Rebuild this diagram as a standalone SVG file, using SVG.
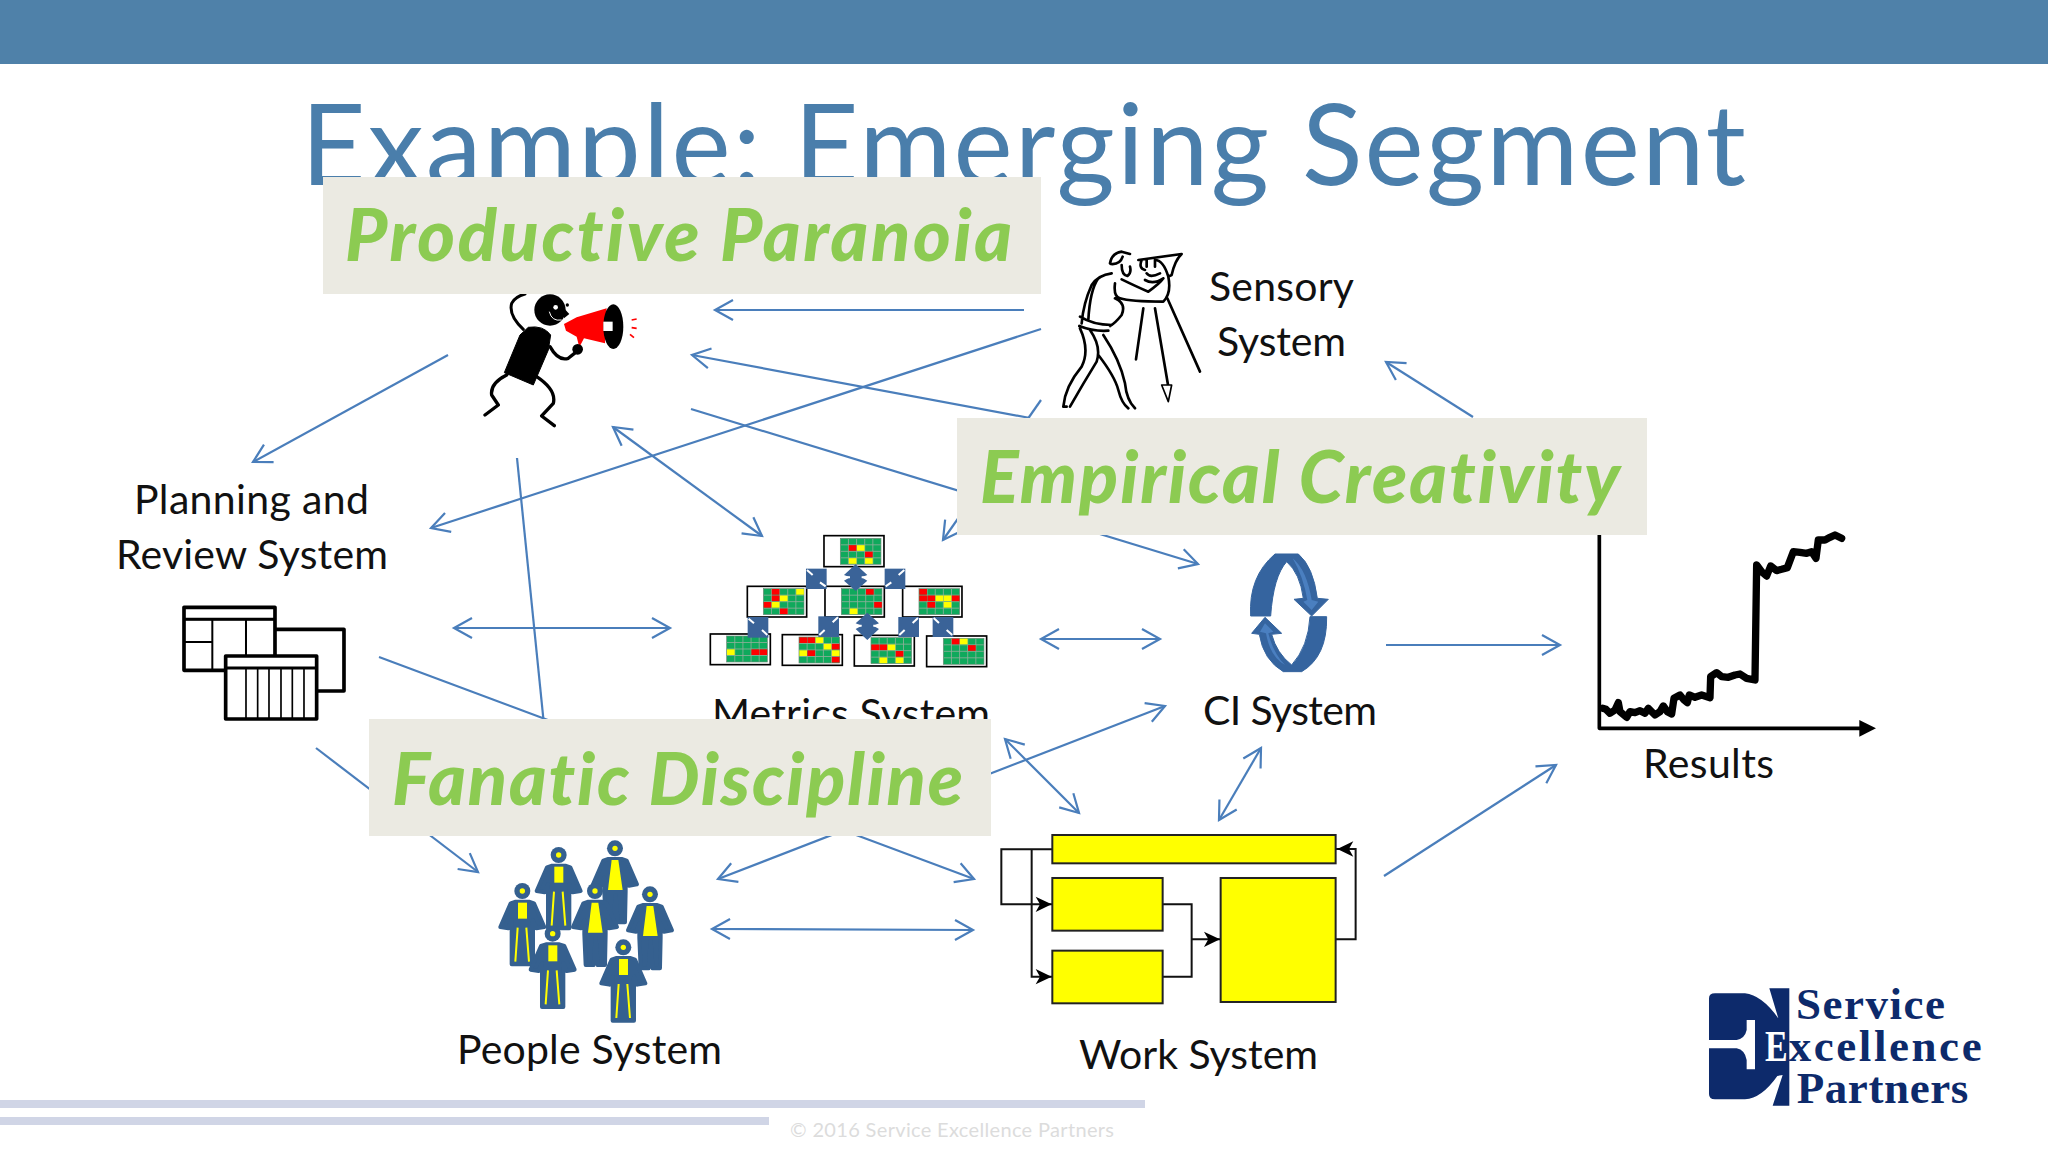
<svg xmlns="http://www.w3.org/2000/svg" xmlns:xlink="http://www.w3.org/1999/xlink" width="2048" height="1152" viewBox="0 0 2048 1152">
<style>
.lb{font-family:"Lato","Liberation Sans",sans-serif;font-size:41px;fill:#111;font-variant-ligatures:none}
.cw{font-family:"Lato","Liberation Sans",sans-serif;font-size:72px;font-weight:900;font-style:italic;fill:#8ccb52;font-variant-ligatures:none}
.cb{fill:#ebeae2}
.cn{fill:none;stroke:#4a7ebb;stroke-width:2.2;marker-end:url(#v)}
.cd{fill:none;stroke:#4a7ebb;stroke-width:2.2;marker-end:url(#v);marker-start:url(#v)}
.cp{fill:none;stroke:#4a7ebb;stroke-width:2.2}
.k{fill:none;stroke:#000;stroke-linecap:round;stroke-linejoin:round}
.bx{fill:#fff;stroke:#000;stroke-width:5}
.ba{fill:#3a6398}
.nk{stroke:#fff;stroke-width:6}
.ye{fill:#ff0;stroke:#222;stroke-width:6}
.wl{fill:none;stroke:#111;stroke-width:6}
.pb{fill:#35608f;stroke:#35608f;stroke-width:12;stroke-linejoin:round}
.py{fill:#ff0}
.pl{stroke:#ff0;stroke-width:6}
.lg{font-family:"Liberation Serif",serif;font-weight:700;font-size:135px;fill:#0d2a6b}
</style>
<defs>
<marker id="v" markerUnits="userSpaceOnUse" markerWidth="26" markerHeight="26" refX="22" refY="13" orient="auto-start-reverse"><path d="M4,3 L22,13 L4,23" fill="none" stroke="#4a7ebb" stroke-width="2.2"/></marker>
<g id="mg"><rect width="122" height="78" fill="#0fa95c"/><path d="M0,19.5H122M0,39H122M0,58.500H122M24.400,0V78M48.800,0V78M73.200,0V78M97.600,0V78" stroke="#8fae9a" stroke-width="2.500" fill="none"/><rect width="122" height="78" fill="none" stroke="#6f8a78" stroke-width="2"/></g>
<rect id="cr" width="23" height="17" fill="#f00"/>
<rect id="cy" width="23" height="17" fill="#ff0"/>
<path id="ah" d="M0,0 L-48,-23 L-35,0 L-48,23 Z" fill="#000"/>
<g id="pa"><path class="pb" d="M-20,32L20,32L35,37L66,108L42,112L32,88L32,220L-32,220L-32,88L-42,112L-66,108L-35,37Z"/><circle r="24" fill="#35608f"/><circle r="8" class="py"/><rect class="py" x="-13" y="35" width="27" height="48"/><path class="pl" d="M-14,110L-21,212M12,110L20,212"/></g>
<g id="pb"><path class="pb" d="M-20,32L20,32L35,37L66,108L42,112L32,88L32,130L30,222L8,222L2,140L-4,222L-28,222L-32,130L-32,88L-42,112L-66,108L-35,37Z"/><circle r="24" fill="#35608f"/><circle r="8" class="py"/><path class="py" d="M-10,35L10,35L23,125L-21,125Z"/></g>
</defs>

<rect id="header-band" width="2048" height="64" fill="#4f81a9"/>
<text id="title" x="301" y="185" font-family="Lato,'Liberation Sans',sans-serif" font-size="112" fill="#4a7eab" textLength="1445" lengthAdjust="spacing" style="font-variant-ligatures:none">Example: Emerging Segment</text>

<g id="footer">
<rect x="0" y="1100" width="1145" height="8" fill="#d0d5e6"/>
<rect x="0" y="1117" width="769" height="8" fill="#d0d5e6"/>
<text x="790" y="1137" font-family="Lato,'Liberation Sans',sans-serif" font-size="20" fill="#dcdcdc" textLength="324">© 2016 Service Excellence Partners</text>
</g>

<g id="node-leadership" transform="translate(440 240) scale(.3333)">
<path class="k" stroke-width="9" d="M250,268Q205,225 215,190Q225,170 255,162"/>
<path d="M265,262Q310,255 332,285L325,330L280,435L193,398L240,285Z" fill="#000" stroke="#000" stroke-width="3" stroke-linejoin="round"/>
<path class="k" stroke-width="10" d="M200,405Q150,430 155,465L175,495L135,525M290,410Q350,450 340,490L305,528L343,557M330,320Q355,365 385,355L410,335"/>
<circle cx="330" cy="210" r="47" fill="#000"/><circle cx="382" cy="195" r="5" fill="#000"/>
<path d="M372,205L388,222L372,235Z" fill="#000"/>
<circle cx="347" cy="202" r="7" fill="#fff"/>
<path d="M328,215Q335,245 365,240" fill="none" stroke="#fff" stroke-width="3"/>
<path d="M372,252L410,232L500,205L495,310L432,295L418,322L410,290L378,272Z" fill="#f00"/>
<circle cx="413" cy="328" r="16" fill="#000"/>
<ellipse cx="520" cy="260" rx="30" ry="67" fill="#000"/><rect x="490" y="245" width="28" height="28" fill="#fff"/>
<path d="M575,240L590,237M575,263L590,265M570,283L582,293" stroke="#f00" stroke-width="5" fill="none"/>
</g>

<g id="node-sensory">
<g transform="translate(1040 240) scale(.3333)">
<path class="k" stroke-width="8" d="M210,70Q215,40 245,35L270,42M212,72Q240,75 248,50M245,75Q245,105 262,108Q275,100 270,80M215,100Q175,105 155,135Q130,190 125,250M175,115Q150,150 145,240M225,130Q220,170 240,175Q270,185 370,185Q395,160 385,110M245,118Q290,140 325,155Q360,130 370,115M120,230Q160,255 215,255M118,258Q160,275 205,272M225,175Q260,190 245,225Q225,250 210,258M150,270Q185,320 170,365Q130,430 90,500M120,265Q150,330 125,380Q75,440 70,500L80,500M190,285Q240,360 255,430Q260,480 285,505M175,345Q225,410 235,450Q245,490 265,505M295,60L425,42Q405,60 395,105L385,110Q370,60 345,60M305,60Q295,85 315,90M320,60L320,80M345,60L345,80M320,100Q330,115 360,100M315,120Q340,135 370,115"/>
<path class="k" stroke-width="8" d="M310,205L288,358M345,205L385,440M382,175L480,395"/>
<path d="M365,435L395,435L385,485Z" fill="#fff" stroke="#000" stroke-width="5" stroke-linejoin="round"/>
</g>
<text class="lb" x="1209" y="301" textLength="145">Sensory</text>
<text class="lb" x="1217" y="356" textLength="129">System</text>
</g>

<g id="node-planning">
<text class="lb" x="134" y="514" textLength="235">Planning and</text>
<text class="lb" x="116" y="569" textLength="272">Review System</text>
<g transform="translate(160 590) scale(.3333)" fill="#fff" stroke="#000" stroke-linejoin="round">
<rect x="250" y="118" width="302" height="185" stroke-width="11"/>
<rect x="72" y="52" width="273" height="189" stroke-width="11"/>
<path d="M72,88H345M157,88V241M72,156H157M258,88V200" stroke-width="6" fill="none"/>
<path d="M72,88H345" stroke-width="9" fill="none"/>
<rect x="197" y="198" width="273" height="189" stroke-width="11"/>
<path d="M197,234H470" stroke-width="9" fill="none"/>
<path d="M258,234V387M293,234V387M327,234V387M363,234V387M397,234V387M432,234V387" stroke-width="5" fill="none"/>
</g>
</g>

<g id="node-metrics">
<g transform="translate(680 520) scale(.3333)">
<rect class="bx" x="432" y="47" width="180" height="93"/><rect class="bx" x="202" y="199" width="178" height="92"/><rect class="bx" x="435" y="199" width="178" height="92"/><rect class="bx" x="668" y="199" width="178" height="92"/><rect class="bx" x="91" y="342" width="180" height="92"/><rect class="bx" x="307" y="344" width="180" height="92"/><rect class="bx" x="523" y="346" width="180" height="92"/><rect class="bx" x="740" y="348" width="180" height="92"/>
<g transform="translate(481 55)"><use href="#mg"/><use href="#cr" x="25.400" y="20.500"/><use href="#cy" x="49.800" y="20.500"/><use href="#cr" x="74.200" y="40"/><use href="#cy" x="25.400" y="59.500"/><use href="#cy" x="74.200" y="59.500"/></g>
<g transform="translate(250 206)"><use href="#mg"/><use href="#cr" x="25.400" y="1"/><use href="#cy" x="98.600" y="1"/><use href="#cr" x="25.400" y="20.500"/><use href="#cy" x="49.800" y="20.500"/><use href="#cr" x="1" y="40"/><use href="#cy" x="25.400" y="40"/><use href="#cr" x="49.800" y="59.500"/></g>
<g transform="translate(484 206)"><use href="#mg"/><use href="#cr" x="74.200" y="1"/><use href="#cr" x="98.600" y="40"/><use href="#cy" x="25.400" y="59.500"/></g>
<g transform="translate(717 206)"><use href="#mg"/><use href="#cr" x="1" y="1"/><use href="#cr" x="1" y="20.500"/><use href="#cr" x="25.400" y="20.500"/><use href="#cy" x="49.800" y="20.500"/><use href="#cy" x="74.200" y="20.500"/><use href="#cr" x="98.600" y="20.500"/><use href="#cr" x="25.400" y="40"/><use href="#cy" x="74.200" y="40"/></g>
<g transform="translate(140 348)"><use href="#mg"/><use href="#cy" x="1" y="40"/><use href="#cr" x="74.200" y="40"/><use href="#cr" x="98.600" y="40"/></g>
<g transform="translate(357 351)"><use href="#mg"/><use href="#cr" x="1" y="1"/><use href="#cr" x="25.400" y="1"/><use href="#cy" x="49.800" y="1"/><use href="#cy" x="74.200" y="20.500"/><use href="#cr" x="98.600" y="20.500"/><use href="#cy" x="1" y="40"/><use href="#cr" x="25.400" y="40"/><use href="#cy" x="98.600" y="40"/><use href="#cr" x="98.600" y="59.500"/></g>
<g transform="translate(573 353)"><use href="#mg"/><use href="#cr" x="1" y="20.500"/><use href="#cr" x="25.400" y="20.500"/><use href="#cy" x="49.800" y="20.500"/><use href="#cr" x="74.200" y="40"/><use href="#cy" x="25.400" y="59.500"/><use href="#cy" x="74.200" y="59.500"/></g>
<g transform="translate(790 355)"><use href="#mg"/><use href="#cr" x="25.400" y="1"/><use href="#cy" x="49.800" y="1"/><use href="#cr" x="74.200" y="20.500"/></g>
<rect class="ba" x="378" y="146" width="62" height="61"/><path class="nk" d="M381,150L398,165M420,187L437,199"/>
<rect class="ba" x="614" y="146" width="62" height="61"/><path class="nk" d="M673,150L656,165M634,187L617,199"/>
<rect class="ba" x="203" y="291" width="62" height="62"/><path class="nk" d="M206,296L222,310M246,330L262,345"/>
<rect class="ba" x="415" y="289" width="62" height="62"/><path class="nk" d="M474,292L458,307M434,330L418,345"/>
<rect class="ba" x="655" y="291" width="62" height="60"/><path class="nk" d="M714,294L698,309M674,330L658,345"/>
<rect class="ba" x="758" y="291" width="62" height="60"/><path class="nk" d="M761,294L777,309M800,330L817,345"/>
<path class="ba" d="M527,133L562,165L545,172L562,182L527,213L492,182L510,172L492,165Z"/><path class="nk" d="M545,172L562,172M492,172L510,172"/>
<path class="ba" d="M562,278L597,310L580,317L597,327L562,360L527,327L545,317L527,310Z"/><path class="nk" d="M580,317L597,317M527,317L545,317"/>
</g>
<text class="lb" x="712" y="728" textLength="278">Metrics System</text>
</g>

<g id="node-ci">
<g transform="translate(1220 540) scale(.3333)">
<path fill="#35649f" stroke="#35649f" stroke-width="3" stroke-linejoin="round" d="M92,228Q85,110 165,42L235,42Q280,80 292,175L325,178L275,228L222,178L250,175Q240,100 200,65Q160,110 152,228Z"/>
<path fill="#35649f" stroke="#35649f" stroke-width="3" stroke-linejoin="round" d="M320,230Q322,350 245,395L190,395Q130,360 118,283L95,280L135,232L185,280L155,283Q170,340 215,375Q265,320 270,230Z"/>
<path fill="#4a7fc0" d="M218,55Q260,90 275,180L295,185L275,210L250,185L262,180Q250,110 218,55ZM195,375Q150,350 138,280L120,275L135,250L160,275L145,280Q160,340 195,375Z"/>
</g>
<text class="lb" x="1203" y="725" textLength="174">CI System</text>
</g>

<g id="node-results">
<g transform="translate(1580 520) scale(.3333)">
<path class="k" stroke-width="11" stroke-linecap="butt" d="M58,45V625H840"/>
<path d="M838,600L888,625L838,650Z" fill="#000"/>
<path class="k" stroke-width="22" d="M68,565L78,568L90,580L105,570L115,548L120,575L140,592L150,575L165,578L180,572L195,580L205,565L225,585L240,575L250,558L262,575L275,582L282,535L300,525L312,540L322,548L328,525L345,532L365,525L390,533L392,470L410,458L425,470L445,472L465,465L480,462L500,475L525,480L530,135L545,155L560,168L572,138L590,152L605,148L622,143L640,95L660,97L680,100L695,95L708,115L715,60L735,60L750,52L765,45L785,55"/>
</g>
<text class="lb" x="1643" y="778" textLength="131">Results</text>
</g>

<g id="node-people">
<g transform="translate(480 830) scale(.3333)">
<use href="#pb" x="405" y="55"/><use href="#pa" x="236" y="75"/><use href="#pa" x="127" y="183"/><use href="#pb" x="345" y="183"/><use href="#pb" x="510" y="193"/><use href="#pa" x="218" y="311"/><use href="#pa" x="430" y="352"/>
</g>
<text class="lb" x="457" y="1064" textLength="265">People System</text>
</g>

<g id="node-work">
<g transform="translate(1000 820) scale(.3333)">
<path class="wl" d="M157,88H4V253H157M95,88V470H157M488,253H575V470H488M575,358H662M1007,358H1067V87H1007"/>
<rect class="ye" x="157" y="45" width="850" height="85"/><rect class="ye" x="157" y="174" width="331" height="158"/><rect class="ye" x="157" y="392" width="331" height="158"/><rect class="ye" x="662" y="174" width="345" height="372"/>
<use href="#ah" x="155" y="253"/><use href="#ah" x="155" y="470"/><use href="#ah" x="660" y="358"/><use href="#ah" transform="translate(1012 87) rotate(180)"/>
</g>
<text class="lb" x="1079" y="1069" textLength="239">Work System</text>
</g>

<g id="connectors">
<path class="cn" d="M1024,310H715"/>
<path class="cn" d="M1030,418L692,355"/>
<path class="cn" d="M1041,400L943,540"/>
<path class="cn" d="M1041,329L431,528"/>
<path class="cn" d="M691,409L1198,564"/>
<path class="cd" d="M613,427L762,536"/>
<path class="cn" d="M448,355L253,462"/>
<path class="cp" d="M517,458L545,735"/>
<path class="cn" d="M316,748L478,872"/>
<path class="cn" d="M379,657L974,879"/>
<path class="cd" d="M718,879L1165,706"/>
<path class="cd" d="M1005,739L1079,813"/>
<path class="cd" d="M1261,748L1219,820"/>
<path class="cd" d="M1041,639H1160"/>
<path class="cd" d="M454,628H670"/>
<path class="cn" d="M1386,645H1560"/>
<path class="cn" d="M1384,876L1556,765"/>
<path class="cn" d="M1473,417L1386,362"/>
<path class="cd" d="M712,929L973,930"/>
</g>

<g id="callout-paranoia"><rect class="cb" x="323" y="177" width="718" height="117"/><text class="cw" x="345" y="261" textLength="667">Productive Paranoia</text></g>
<g id="callout-creativity"><rect class="cb" x="957" y="418" width="690" height="117"/><text class="cw" x="980" y="503" textLength="640">Empirical Creativity</text></g>
<g id="callout-discipline"><rect class="cb" x="369" y="719" width="622" height="117"/><text class="cw" x="392" y="805" textLength="571">Fanatic Discipline</text></g>

<g id="logo" transform="translate(1690 970) scale(.3333)">
<path fill="#0d2a6b" d="M57,85Q57,70 75,70L165,70Q215,75 265,145L238,55H298V407H248L278,315L262,318Q215,385 165,388L75,388Q57,388 57,372Z"/>
<path fill="#fff" d="M170,150H195V298H170V270Q165,240 140,235H57V210H140Q165,205 170,180Z"/>
<text class="lg" x="318" y="147" textLength="447">Service</text>
<text class="lg" x="225" y="272" font-size="120" textLength="68" lengthAdjust="spacingAndGlyphs" style="fill:#fff">E</text>
<text class="lg" x="296" y="272" textLength="579">xcellence</text>
<text class="lg" x="320" y="400" textLength="515">Partners</text>
</g>
</svg>
